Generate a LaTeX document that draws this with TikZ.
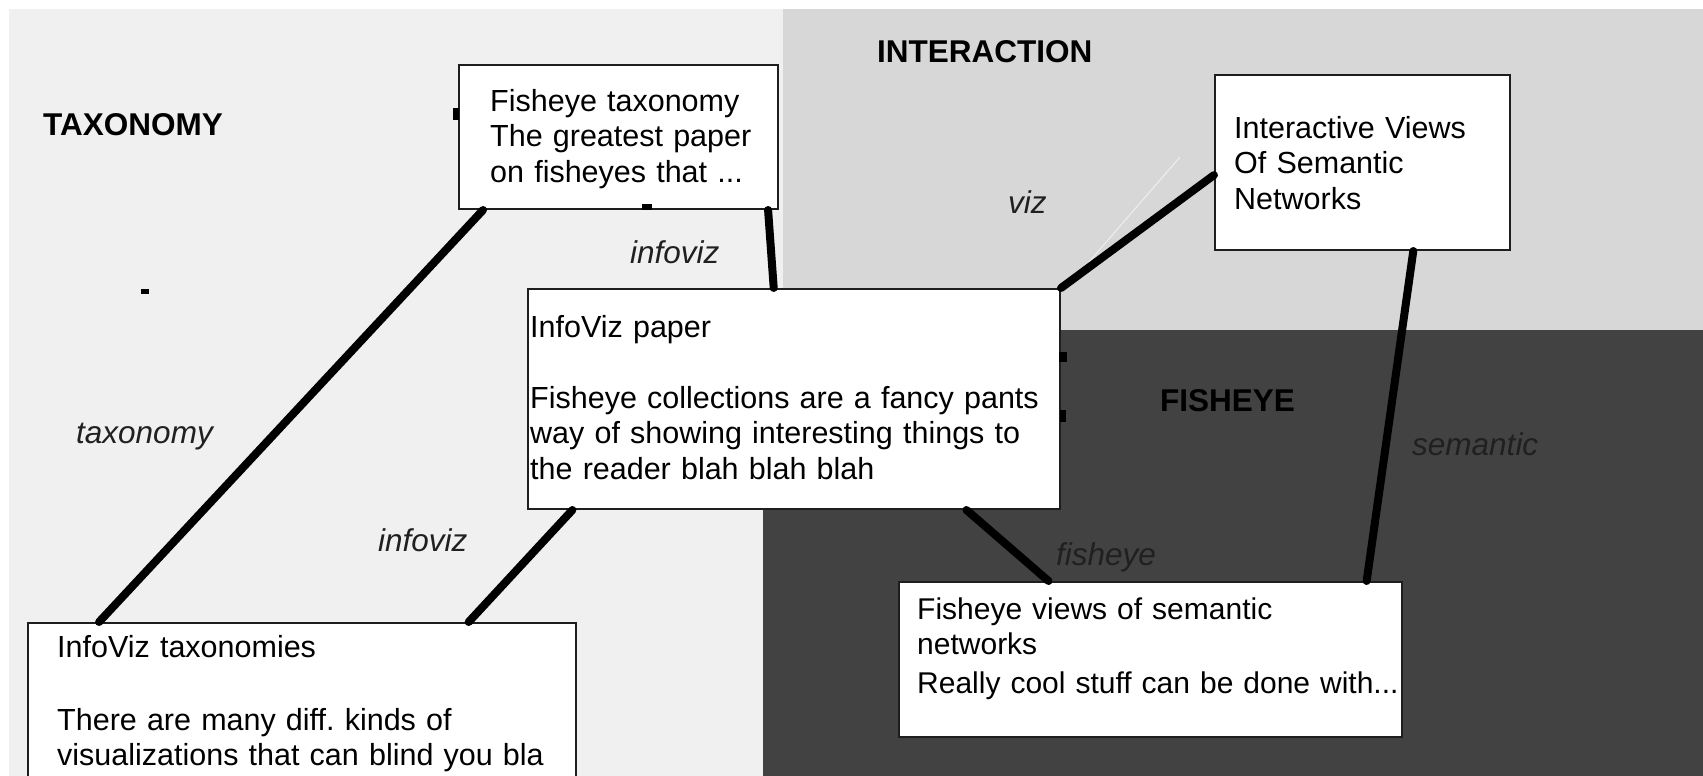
\documentclass[tikz,border=0pt]{standalone}
\usepackage{fontspec}
\setmainfont{Liberation Sans}
\usetikzlibrary{calc}
\definecolor{lightbg}{HTML}{F0F0F0}
\definecolor{midbg}{HTML}{D7D7D7}
\definecolor{darkbg}{HTML}{424242}
\definecolor{labelc}{HTML}{202020}
\definecolor{boxline}{HTML}{1E1E1E}
\frenchspacing
\begin{document}
\begin{tikzpicture}[x=1pt,y=-1pt,
  box/.style={draw=boxline, line width=2pt, fill=white, rectangle, anchor=north west, inner sep=0pt},
  boxtext/.style={anchor=base west, inner sep=0pt, text width=#1, align=left, font=\fontsize{30.5}{35.5}\selectfont},
  region/.style={font=\fontsize{31.5}{36}\selectfont\bfseries, text=black, anchor=base west, inner sep=0pt},
  edgelabel/.style={font=\fontsize{31.5}{36}\selectfont\itshape, text=labelc, anchor=base west, inner sep=0pt},
  link/.style={line width=8pt, line cap=round, draw=black},
  speck/.style={fill=black}
]
\useasboundingbox (0,0) rectangle (1703,776);
\begin{scope}
\clip (0,0) rectangle (1703,776);
% backgrounds
\fill[white] (0,0) rectangle (1703,776);
\fill[lightbg] (9,9) rectangle (783,776);
\fill[midbg] (783,9) rectangle (1703,330);
\fill[darkbg] (763,330) rectangle (1703,776);
\draw[white, line width=1pt, opacity=0.6] (1088,263) -- (1180,157);

% region titles
\node[region] (taxT) at (43,135) {TAXONOMY};
\node[region] (intT) at (877,63) {INTERACTION};
\node[region] (fishT) at (1160,411) {FISHEYE};

% boxes
\node[box, minimum width=319pt, minimum height=144pt] (ftax) at (458,64) {};
\node[box, minimum width=532pt, minimum height=220pt] (ipaper) at (527,288) {};
\node[box, minimum width=548pt, minimum height=190pt] (itax) at (27,622) {};
\node[box, minimum width=295pt, minimum height=175pt] (iviews) at (1214,74) {};
\node[box, minimum width=503pt, minimum height=155pt] (fviews) at (898,581) {};

% box texts
\node[boxtext=285pt] (ftaxt) at (490,111) {Fisheye taxonomy\\The greatest paper\\on fisheyes that ...};
\node[boxtext=525pt] (ipapert) at (530,337) {InfoViz paper\\[35.5pt]Fisheye collections are a fancy pants\\way of showing interesting things to\\the reader blah blah blah};
\node[boxtext=515pt] (itaxt) at (57,657) {InfoViz taxonomies\\[37.5pt]There are many diff. kinds of\\visualizations that can blind you bla};
\node[boxtext=270pt] (iviewst) at (1234,138) {Interactive Views\\Of Semantic\\Networks};
\node[boxtext=495pt, font=\fontsize{30}{35.5}\selectfont] (fviewst) at (917,619) {Fisheye views of semantic\\networks\\[3pt]Really cool stuff can be done with...};

% connectors
\draw[link] ($(ftax.south west)!0.078!(ftax.south east)$) -- ($(itax.north west)!0.131!(itax.north east)$);
\draw[link] ($(ftax.south west)!0.966!(ftax.south east)$) -- ($(ipaper.north west)!0.462!(ipaper.north east)$);
\draw[link] ($(ipaper.south west)!0.085!(ipaper.south east)$) -- ($(itax.north west)!0.803!(itax.north east)$);
\draw[link] (ipaper.north east) -- ($(iviews.north west)!0.571!(iviews.south west)$);
\draw[link] ($(iviews.south west)!0.671!(iviews.south east)$) -- ($(fviews.north west)!0.928!(fviews.north east)$);
\draw[link] ($(ipaper.south west)!0.823!(ipaper.south east)$) -- ($(fviews.north west)!0.298!(fviews.north east)$);

% connector labels
\node[edgelabel] (lTax) at (76,443) {taxonomy};
\node[edgelabel] (lInfo1) at (630,263) {infoviz};
\node[edgelabel] (lInfo2) at (378,551) {infoviz};
\node[edgelabel] (lViz) at (1008,213) {viz};
\node[edgelabel] (lSem) at (1412,455) {semantic};
\node[edgelabel] (lFish) at (1056,565) {fisheye};

% small specks
\fill[speck] (141,289) rectangle (149,294);
\fill[speck] (453,108) rectangle (459,120);
\fill[speck] (642,204) rectangle (652,210);
\fill[speck] (1059,352) rectangle (1067,362);
\fill[speck] (1060,410) rectangle (1066,422);
\end{scope}
\end{tikzpicture}
\end{document}
